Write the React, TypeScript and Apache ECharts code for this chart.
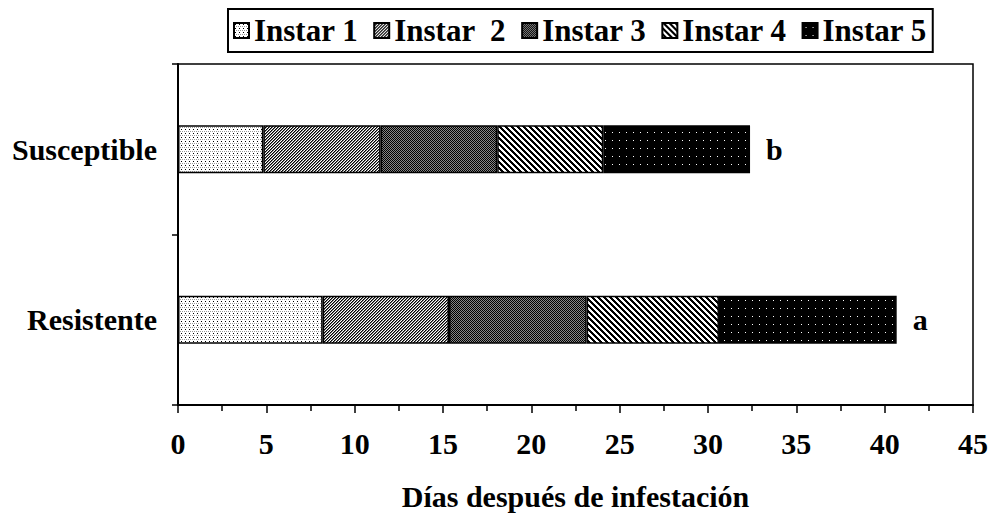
import React, { useEffect, useRef } from "react";
import * as echarts from "echarts";

const categories = ["Resistente", "Susceptible"];
const instarNames = ["Instar 1", "Instar  2", "Instar 3", "Instar 4", "Instar 5"];
const instar1 = [8.19, 4.83];
const instar2 = [7.15, 6.64];
const instar3 = [7.79, 6.6];
const instar4 = [7.49, 6.0];
const instar5 = [10.06, 8.31];
const sigLetters = ["a", "b"];
const xTicks = [0, 5, 10, 15, 20, 25, 30, 35, 40, 45];

const FONT = "'Liberation Serif', 'Times New Roman', serif";

function makeTile(w: number, h: number, draw: (x: number, y: number) => string | null) {
  const c = document.createElement("canvas");
  c.width = w;
  c.height = h;
  const ctx = c.getContext("2d")!;
  for (let y = 0; y < h; y++) {
    for (let x = 0; x < w; x++) {
      const col = draw(x, y);
      if (col) {
        ctx.fillStyle = col;
        ctx.fillRect(x, y, 1, 1);
      }
    }
  }
  return c;
}

function makePatterns() {
  const p1 = makeTile(4, 4, (x, y) => {
    if (x === 1 && y === 1) return "#000";
    if (y === 3 && x % 2 === 0) return "#999";
    return "#fff";
  });
  const p2 = makeTile(3, 3, (x, y) => {
    const d = (x + y) % 3;
    if (d === 2) return "#000";
    if (d === 0) return "#777";
    return "#fff";
  });
  const p3 = makeTile(2, 2, (x, y) => ((x + y) % 2 === 0 ? "#000" : "#888"));
  const p4 = makeTile(6, 6, (x, y) => {
    const d = (((x - y) % 6) + 6) % 6;
    return d < 3 ? "#000" : "#fff";
  });
  const p5 = makeTile(7, 8, (x, y) => (x === 3 && y === 4 ? "#fff" : "#000"));
  return [p1, p2, p3, p4, p5];
}

export default function App() {
  const ref = useRef<HTMLDivElement>(null);
  useEffect(() => {
    document.body.style.margin = "0";
    if (!ref.current) return;
    const chart = echarts.init(ref.current, null, { renderer: "svg" });
    const pats = makePatterns();
    const values = [instar1, instar2, instar3, instar4, instar5];
    const series = values.map((vals, i) => ({
      name: instarNames[i],
      type: "bar",
      stack: "total",
      barWidth: 48,
      data: vals,
      itemStyle: {
        color: { image: pats[i], repeat: "repeat" } as any,
        borderColor: "#000",
        borderWidth: 1.5,
      },
      label:
        i === 4
          ? {
              show: true,
              position: "right",
              distance: 16,
              formatter: (p: any) => sigLetters[p.dataIndex],
              fontSize: 30,
              fontWeight: "bold",
              fontFamily: FONT,
              color: "#000",
            }
          : { show: false },
    }));
    chart.setOption({
      animation: false,
      backgroundColor: "#fff",
      legend: {
        data: instarNames,
        left: 228,
        top: 9,
        itemWidth: 15,
        itemHeight: 15,
        itemGap: 15,
        padding: [6, 6, 6, 5],
        borderColor: "#000",
        borderWidth: 2,
        icon: "rect",
        textStyle: {
          fontSize: 31,
          fontWeight: "bold",
          fontFamily: FONT,
          color: "#000",
        },
      },
      grid: {
        left: 178,
        right: 18,
        top: 64,
        bottom: 111,
        show: true,
        borderColor: "#000",
        borderWidth: 1.5,
        outerBoundsMode: "none",
      },
      xAxis: {
        type: "value",
        min: xTicks[0],
        max: xTicks[xTicks.length - 1],
        interval: 5,
        name: "Días después de infestación",
        nameLocation: "middle",
        nameGap: 76,
        nameTextStyle: { fontSize: 30, fontWeight: "bold", fontFamily: FONT, color: "#000" },
        axisLine: { show: true, lineStyle: { color: "#000", width: 2 } },
        axisTick: { show: true, length: 8, lineStyle: { color: "#000", width: 1.5 } },
        minorTick: { show: true, splitNumber: 2, length: 6, lineStyle: { color: "#000", width: 1.5 } },
        splitLine: { show: false },
        axisLabel: { fontSize: 30, fontWeight: "bold", fontFamily: FONT, color: "#000", margin: 23 },
      },
      yAxis: {
        type: "category",
        data: categories,
        axisLine: { show: true, lineStyle: { color: "#000", width: 2 } },
        axisTick: { show: true, length: 6, lineStyle: { color: "#000", width: 1.5 } },
        axisLabel: { fontSize: 30, fontWeight: "bold", fontFamily: FONT, color: "#000", margin: 21 },
      },
      series,
    } as any);
    return () => chart.dispose();
  }, []);
  return <div ref={ref} style={{ width: 991, height: 516 }} />;
}
